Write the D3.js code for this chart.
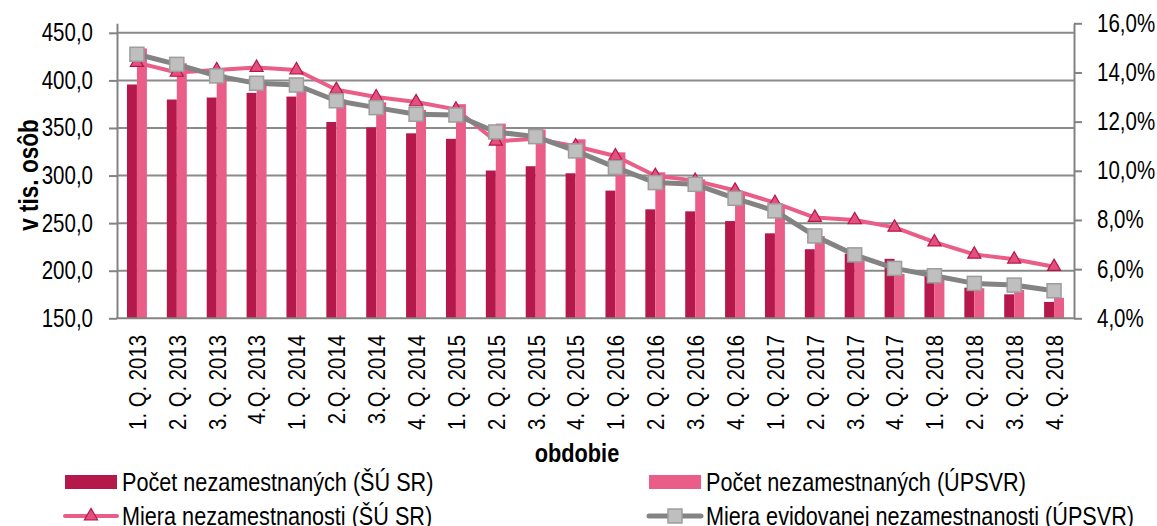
<!DOCTYPE html>
<html>
<head>
<meta charset="utf-8">
<script src="https://cdn.jsdelivr.net/npm/d3@7"></script>
<style>
  body { margin: 0; background: #fff; }
  svg { display: block; font-family: "Liberation Sans", Arial, sans-serif; }
</style>
</head>
<body>
<svg id="chart"></svg>
<script>
const quarters = ["1. Q. 2013", "2. Q. 2013", "3. Q. 2013", "4.Q. 2013",
  "1. Q. 2014", "2.Q. 2014", "3.Q. 2014", "4. Q. 2014",
  "1. Q. 2015", "2. Q. 2015", "3. Q. 2015", "4. Q. 2015",
  "1. Q. 2016", "2. Q. 2016", "3. Q. 2016", "4. Q. 2016",
  "1. Q. 2017", "2. Q. 2017", "3. Q. 2017", "4. Q. 2017",
  "1. Q. 2018", "2. Q. 2018", "3. Q. 2018", "4. Q. 2018"];

// v tis. osob
const countSU = [395.7, 379.9, 382.0, 386.9, 383.0, 356.3, 350.6, 344.4, 338.6, 305.3, 309.8, 302.4,
  284.2, 264.5, 262.4, 252.2, 239.3, 222.6, 217.8, 212.5, 195.7, 182.2, 175.2, 167.2];
const countUPSVR = [433.6, 418.0, 406.0, 399.0, 394.0, 380.0, 377.0, 369.0, 375.0, 354.6, 348.3, 338.1,
  324.4, 303.4, 296.0, 282.0, 267.6, 236.4, 211.0, 196.7, 190.4, 181.6, 179.9, 171.5];

// percent
const rateSU = [14.4, 14.0, 14.1, 14.2, 14.1, 13.3, 13.0, 12.8, 12.5, 11.2, 11.3, 11.0,
  10.6, 9.8, 9.6, 9.2, 8.7, 8.1, 8.0, 7.7, 7.1, 6.6, 6.4, 6.1];
const rateUPSVR = [14.74, 14.33, 13.86, 13.56, 13.49, 12.85, 12.57, 12.30, 12.27, 11.58, 11.39, 10.81,
  10.14, 9.52, 9.45, 8.88, 8.37, 7.35, 6.58, 6.03, 5.73, 5.42, 5.35, 5.12];

const leftTicks = [150, 200, 250, 300, 350, 400, 450];
const rightTicks = [4, 6, 8, 10, 12, 14, 16];

const legendItems = ["Počet nezamestnaných (ŠÚ SR)", "Počet nezamestnaných (ÚPSVR)",
  "Miera nezamestnanosti (ŠÚ SR)", "Miera evidovanej nezamestnanosti (ÚPSVR)"];

const colDark = "#b5184b";
const colPink = "#e95d88";
const colGrey = "#838383";

// the source font is a narrow one, so squeeze the text horizontally
const SX = 0.82;

const width = 1157, height = 526;
const plot = { left: 117, right: 1074, top: 23.3, bottom: 318.3 };

const svg = d3.select("#chart").attr("width", width).attr("height", height);

const x = d3.scaleBand()
  .domain(quarters)
  .range([plot.left, plot.right]);

const y = d3.scaleLinear()
  .domain([150, 460])
  .range([plot.bottom, plot.top]);

const y2 = d3.scaleLinear()
  .domain([4, 16])
  .range([plot.bottom, plot.top]);

const fmt = d => d.toFixed(1).replace(".", ",");
const cx = i => x(quarters[i]) + x.bandwidth() / 2;

// gridlines
svg.append("g")
  .selectAll("line")
  .data(leftTicks.slice(1))
  .enter().append("line")
  .attr("x1", plot.left).attr("x2", plot.right)
  .attr("y1", d => y(d)).attr("y2", d => y(d))
  .attr("stroke", "#8a8a8a")
  .attr("stroke-width", 2);

// bars
const bw = x.bandwidth() * 0.25;
svg.append("g")
  .selectAll("rect")
  .data(countSU)
  .enter().append("rect")
  .attr("x", (d, i) => cx(i) - bw)
  .attr("y", d => y(d))
  .attr("width", bw)
  .attr("height", d => plot.bottom - y(d))
  .attr("fill", colDark);

svg.append("g")
  .selectAll("rect")
  .data(countUPSVR)
  .enter().append("rect")
  .attr("x", (d, i) => cx(i))
  .attr("y", d => y(d))
  .attr("width", bw)
  .attr("height", d => plot.bottom - y(d))
  .attr("fill", colPink);

// axes
const leftAxis = svg.append("g")
  .attr("transform", `translate(${plot.left},0)`)
  .call(d3.axisLeft(y).tickValues(leftTicks).tickFormat(fmt).tickSize(8).tickSizeOuter(0).tickPadding(16));

const rightAxis = svg.append("g")
  .attr("transform", `translate(${plot.right},0)`)
  .call(d3.axisRight(y2).tickValues(rightTicks).tickFormat(d => fmt(d) + "%").tickSize(8).tickSizeOuter(0).tickPadding(15));

[leftAxis, rightAxis].forEach(a => {
  a.select(".domain").attr("stroke", colGrey).attr("stroke-width", 2);
  a.selectAll(".tick line").attr("stroke", colGrey).attr("stroke-width", 2);
  a.selectAll(".tick text")
    .attr("fill", "#000")
    .style("font-size", "25px")
    .style("font-family", '"Liberation Sans", Arial, sans-serif')
    .each(function () {
      const t = d3.select(this);
      t.attr("x", +t.attr("x") / SX).attr("transform", `scale(${SX},1)`);
    });
});

svg.append("line")
  .attr("x1", plot.left - 1).attr("x2", plot.right + 1)
  .attr("y1", plot.bottom).attr("y2", plot.bottom)
  .attr("stroke", colGrey)
  .attr("stroke-width", 2);

// x labels
svg.append("g")
  .selectAll("text")
  .data(quarters)
  .enter().append("text")
  .attr("transform", (d, i) => `translate(${cx(i)},335) rotate(-90) scale(${SX},1)`)
  .attr("text-anchor", "end")
  .attr("dy", "0.36em")
  .style("font-size", "24.8px")
  .text(d => d);

// lines
const rateLine = d3.line()
  .x((d, i) => cx(i))
  .y(d => y2(d));

svg.append("path")
  .datum(rateSU)
  .attr("d", rateLine)
  .attr("fill", "none")
  .attr("stroke", colPink)
  .attr("stroke-width", 4)
  .attr("stroke-linejoin", "round");

const tri = d3.symbol().type(d3.symbolTriangle).size(75);
svg.append("g")
  .selectAll("path")
  .data(rateSU)
  .enter().append("path")
  .attr("d", tri)
  .attr("transform", (d, i) => `translate(${cx(i)},${y2(d)})`)
  .attr("fill", "#e2507f")
  .attr("stroke", "#b9154a")
  .attr("stroke-width", 1.2);

svg.append("path")
  .datum(rateUPSVR)
  .attr("d", rateLine)
  .attr("fill", "none")
  .attr("stroke", colGrey)
  .attr("stroke-width", 5)
  .attr("stroke-linejoin", "round");

svg.append("g")
  .selectAll("rect")
  .data(rateUPSVR)
  .enter().append("rect")
  .attr("x", (d, i) => cx(i) - 7)
  .attr("y", d => y2(d) - 7)
  .attr("width", 14)
  .attr("height", 14)
  .attr("fill", "#bfbfbf")
  .attr("stroke", "#9d9d9d")
  .attr("stroke-width", 1.5);

// titles
svg.append("text")
  .attr("transform", `translate(28,175) rotate(-90) scale(${SX},1)`)
  .attr("text-anchor", "middle")
  .attr("dy", "0.36em")
  .style("font-size", "27.5px")
  .style("font-weight", "bold")
  .text("v tis. osôb");

svg.append("text")
  .attr("transform", `translate(577,462) scale(${SX},1)`)
  .attr("text-anchor", "middle")
  .style("font-size", "26.5px")
  .style("font-weight", "bold")
  .text("obdobie");

// legend
const legend = svg.append("g");
const lx = [65, 649];
const ly = [482, 516];

legend.append("rect").attr("x", lx[0]).attr("y", ly[0] - 7).attr("width", 52).attr("height", 14).attr("fill", colDark);
legend.append("rect").attr("x", lx[1]).attr("y", ly[0] - 7).attr("width", 52).attr("height", 14).attr("fill", colPink);

legend.append("line").attr("x1", lx[0]).attr("x2", lx[0] + 52).attr("y1", ly[1]).attr("y2", ly[1])
  .attr("stroke", colPink).attr("stroke-width", 4).attr("stroke-linecap", "round");
legend.append("path").attr("d", tri).attr("transform", `translate(${lx[0] + 26},${ly[1]})`)
  .attr("fill", "#e2507f").attr("stroke", "#b9154a").attr("stroke-width", 1.2);

legend.append("line").attr("x1", lx[1]).attr("x2", lx[1] + 52).attr("y1", ly[1]).attr("y2", ly[1])
  .attr("stroke", colGrey).attr("stroke-width", 5).attr("stroke-linecap", "round");
legend.append("rect").attr("x", lx[1] + 19).attr("y", ly[1] - 7).attr("width", 14).attr("height", 14)
  .attr("fill", "#bfbfbf").attr("stroke", "#9d9d9d").attr("stroke-width", 1.5);

legend.selectAll("text")
  .data(legendItems)
  .enter().append("text")
  .attr("transform", (d, i) => `translate(${lx[i % 2] + 57},${i < 2 ? 490.5 : 524.5}) scale(${SX},1)`)
  .style("font-size", "26.4px")
  .text(d => d);
</script>
</body>
</html>
